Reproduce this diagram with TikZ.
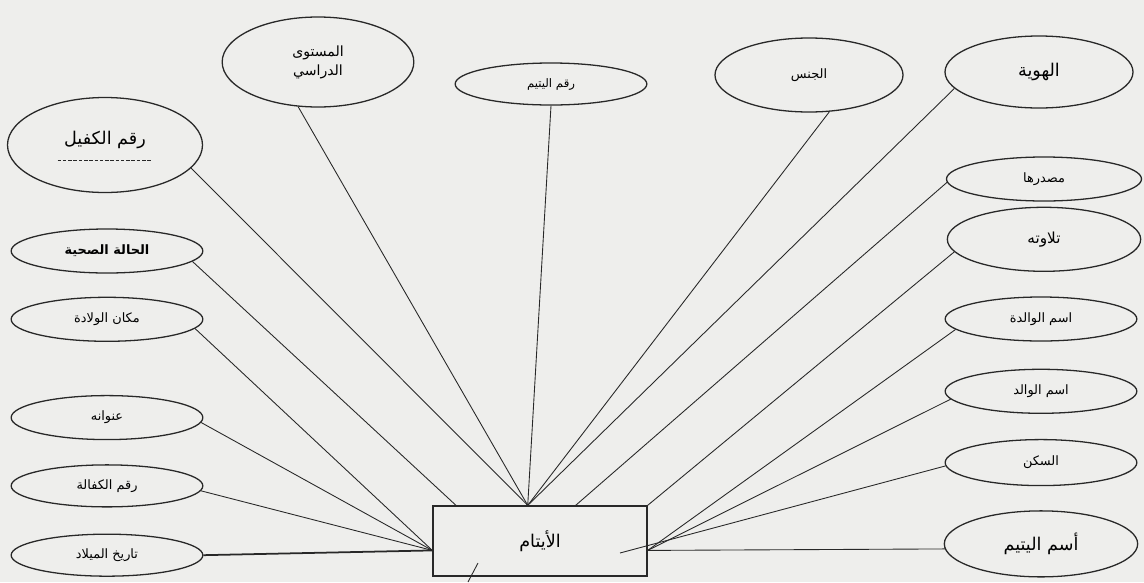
\documentclass[tikz,border=0pt]{standalone}
\usepackage{fontspec}
\newfontfamily\arabicfont[Script=Arabic]{DejaVu Sans}
\TeXXeTstate=1
\usetikzlibrary{shapes.geometric,positioning}
\definecolor{paper}{RGB}{238,238,236}
\definecolor{ink}{RGB}{40,40,40}

\begin{document}
\begin{tikzpicture}[x=0.03cm, y=-0.03cm,
attr/.style={ellipse,draw=ink,line width=1.1pt,inner sep=0pt,minimum width=5.75cm,minimum height=1.32cm,font=\arabicfont\fontsize{11}{13}\selectfont},
bigattr/.style={attr,font=\arabicfont\fontsize{15}{19}\selectfont},
entity/.style={rectangle,draw=ink,line width=1.1pt,inner sep=0pt,minimum width=6.42cm,minimum height=2.1cm,font=\arabicfont\fontsize{15}{18}\selectfont},
paths/.style={draw=ink,line width=0.75pt}
]
\fill[paper] (0,0) rectangle (1144,582);
\useasboundingbox (0,0) rectangle (1144,582);

%entity
\node[entity] (aytam) at (540,541) {\beginR الأيتام\endR};

%left attributes
\node[bigattr, minimum width=5.85cm, minimum height=2.85cm, text depth=0.45cm] (kafeel) at (105,145) {\beginR رقم الكفيل\endR};
\node[attr, font=\arabicfont\bfseries\fontsize{11}{13}\selectfont] (sihha) at (107,251) {\beginR الحالة الصحية\endR};
\node[attr, below=0.69cm of sihha] (wilada) {\beginR مكان الولادة\endR};
\node[attr, below=1.59cm of wilada] (unwan) {\beginR عنوانه\endR};
\node[attr, minimum height=1.26cm, below=0.72cm of unwan] (kafala) {\beginR رقم الكفالة\endR};
\node[attr, minimum height=1.26cm, below=0.78cm of kafala] (milad) {\beginR تاريخ الميلاد\endR};

%top attributes
\node[attr, minimum height=2.7cm, align=center, font=\arabicfont\fontsize{12}{16}\selectfont] (mustawa) at (318,62) {\beginR المستوى\endR\\\beginR الدراسي\endR};
\node[attr, minimum height=1.26cm, font=\arabicfont\fontsize{10}{12}\selectfont] (raqmyatim) at (551,84) {\beginR رقم اليتيم\endR};
\node[attr, minimum width=5.64cm, minimum height=2.22cm] (jins) at (809,75) {\beginR الجنس\endR};
\node[bigattr, minimum width=5.64cm, minimum height=2.16cm] (hawiya) at (1039,72) {\beginR الهوية\endR};

%right attributes
\node[attr, minimum width=5.85cm] (masdar) at (1044,179) {\beginR مصدرها\endR};
\node[attr, minimum width=5.8cm, minimum height=1.92cm, font=\arabicfont\fontsize{13}{16}\selectfont, below=0.15cm of masdar] (tilawa) {\beginR تلاوته\endR};
\node[attr] (walida) at (1041,319) {\beginR اسم الوالدة\endR};
\node[attr, below=0.81cm of walida] (walid) {\beginR اسم الوالد\endR};
\node[attr, minimum height=1.38cm, below=0.75cm of walid] (sakan) {\beginR السكن\endR};
\node[bigattr, minimum width=5.8cm, minimum height=1.98cm, below=0.72cm of sakan] (ismyatim) {\beginR أسم اليتيم\endR};

%free ends
\coordinate (sakanend) at (620,553);
\coordinate (strayA) at (478,563);
\coordinate (strayB) at (468,582);

%dashed mark under kafeel label
\draw[ink, dash pattern=on 3pt off 1.5pt] ([xshift=-1.42cm,yshift=-0.45cm]kafeel.center) -- ([xshift=1.42cm,yshift=-0.45cm]kafeel.center);

%left attributes to entity
\draw[paths] (kafeel.345) -- (aytam.109);
\draw[paths] (sihha.353) -- (aytam.157);
\draw[paths] (wilada.354) -- (aytam.185);
\draw[paths] (unwan.357) -- (aytam.185);
\draw[paths] (kafala.357) -- (aytam.185);
\draw[paths, line width=1.5pt] (milad.east) -- (aytam.185);

%top attributes to entity
\draw[paths] (mustawa.246) -- (aytam.109);
\draw[paths] (raqmyatim.south) -- (aytam.109);
\draw[paths] (jins.299) -- (aytam.109);
\draw[paths] (hawiya.191) -- (aytam.109);

%right attributes to entity
\draw[paths] (masdar.182) -- (aytam.45);
\draw[paths] (tilawa.188) -- (aytam.north east);
\draw[paths] (walida.187) -- (aytam.355);
\draw[paths] (walid.185) -- (aytam.355);
\draw[paths] (sakan.182) -- (sakanend);
\draw[paths] (ismyatim.183) -- (aytam.355);

%stray stroke below entity
\draw[paths] (strayA) -- (strayB);

\end{tikzpicture}
\end{document}
